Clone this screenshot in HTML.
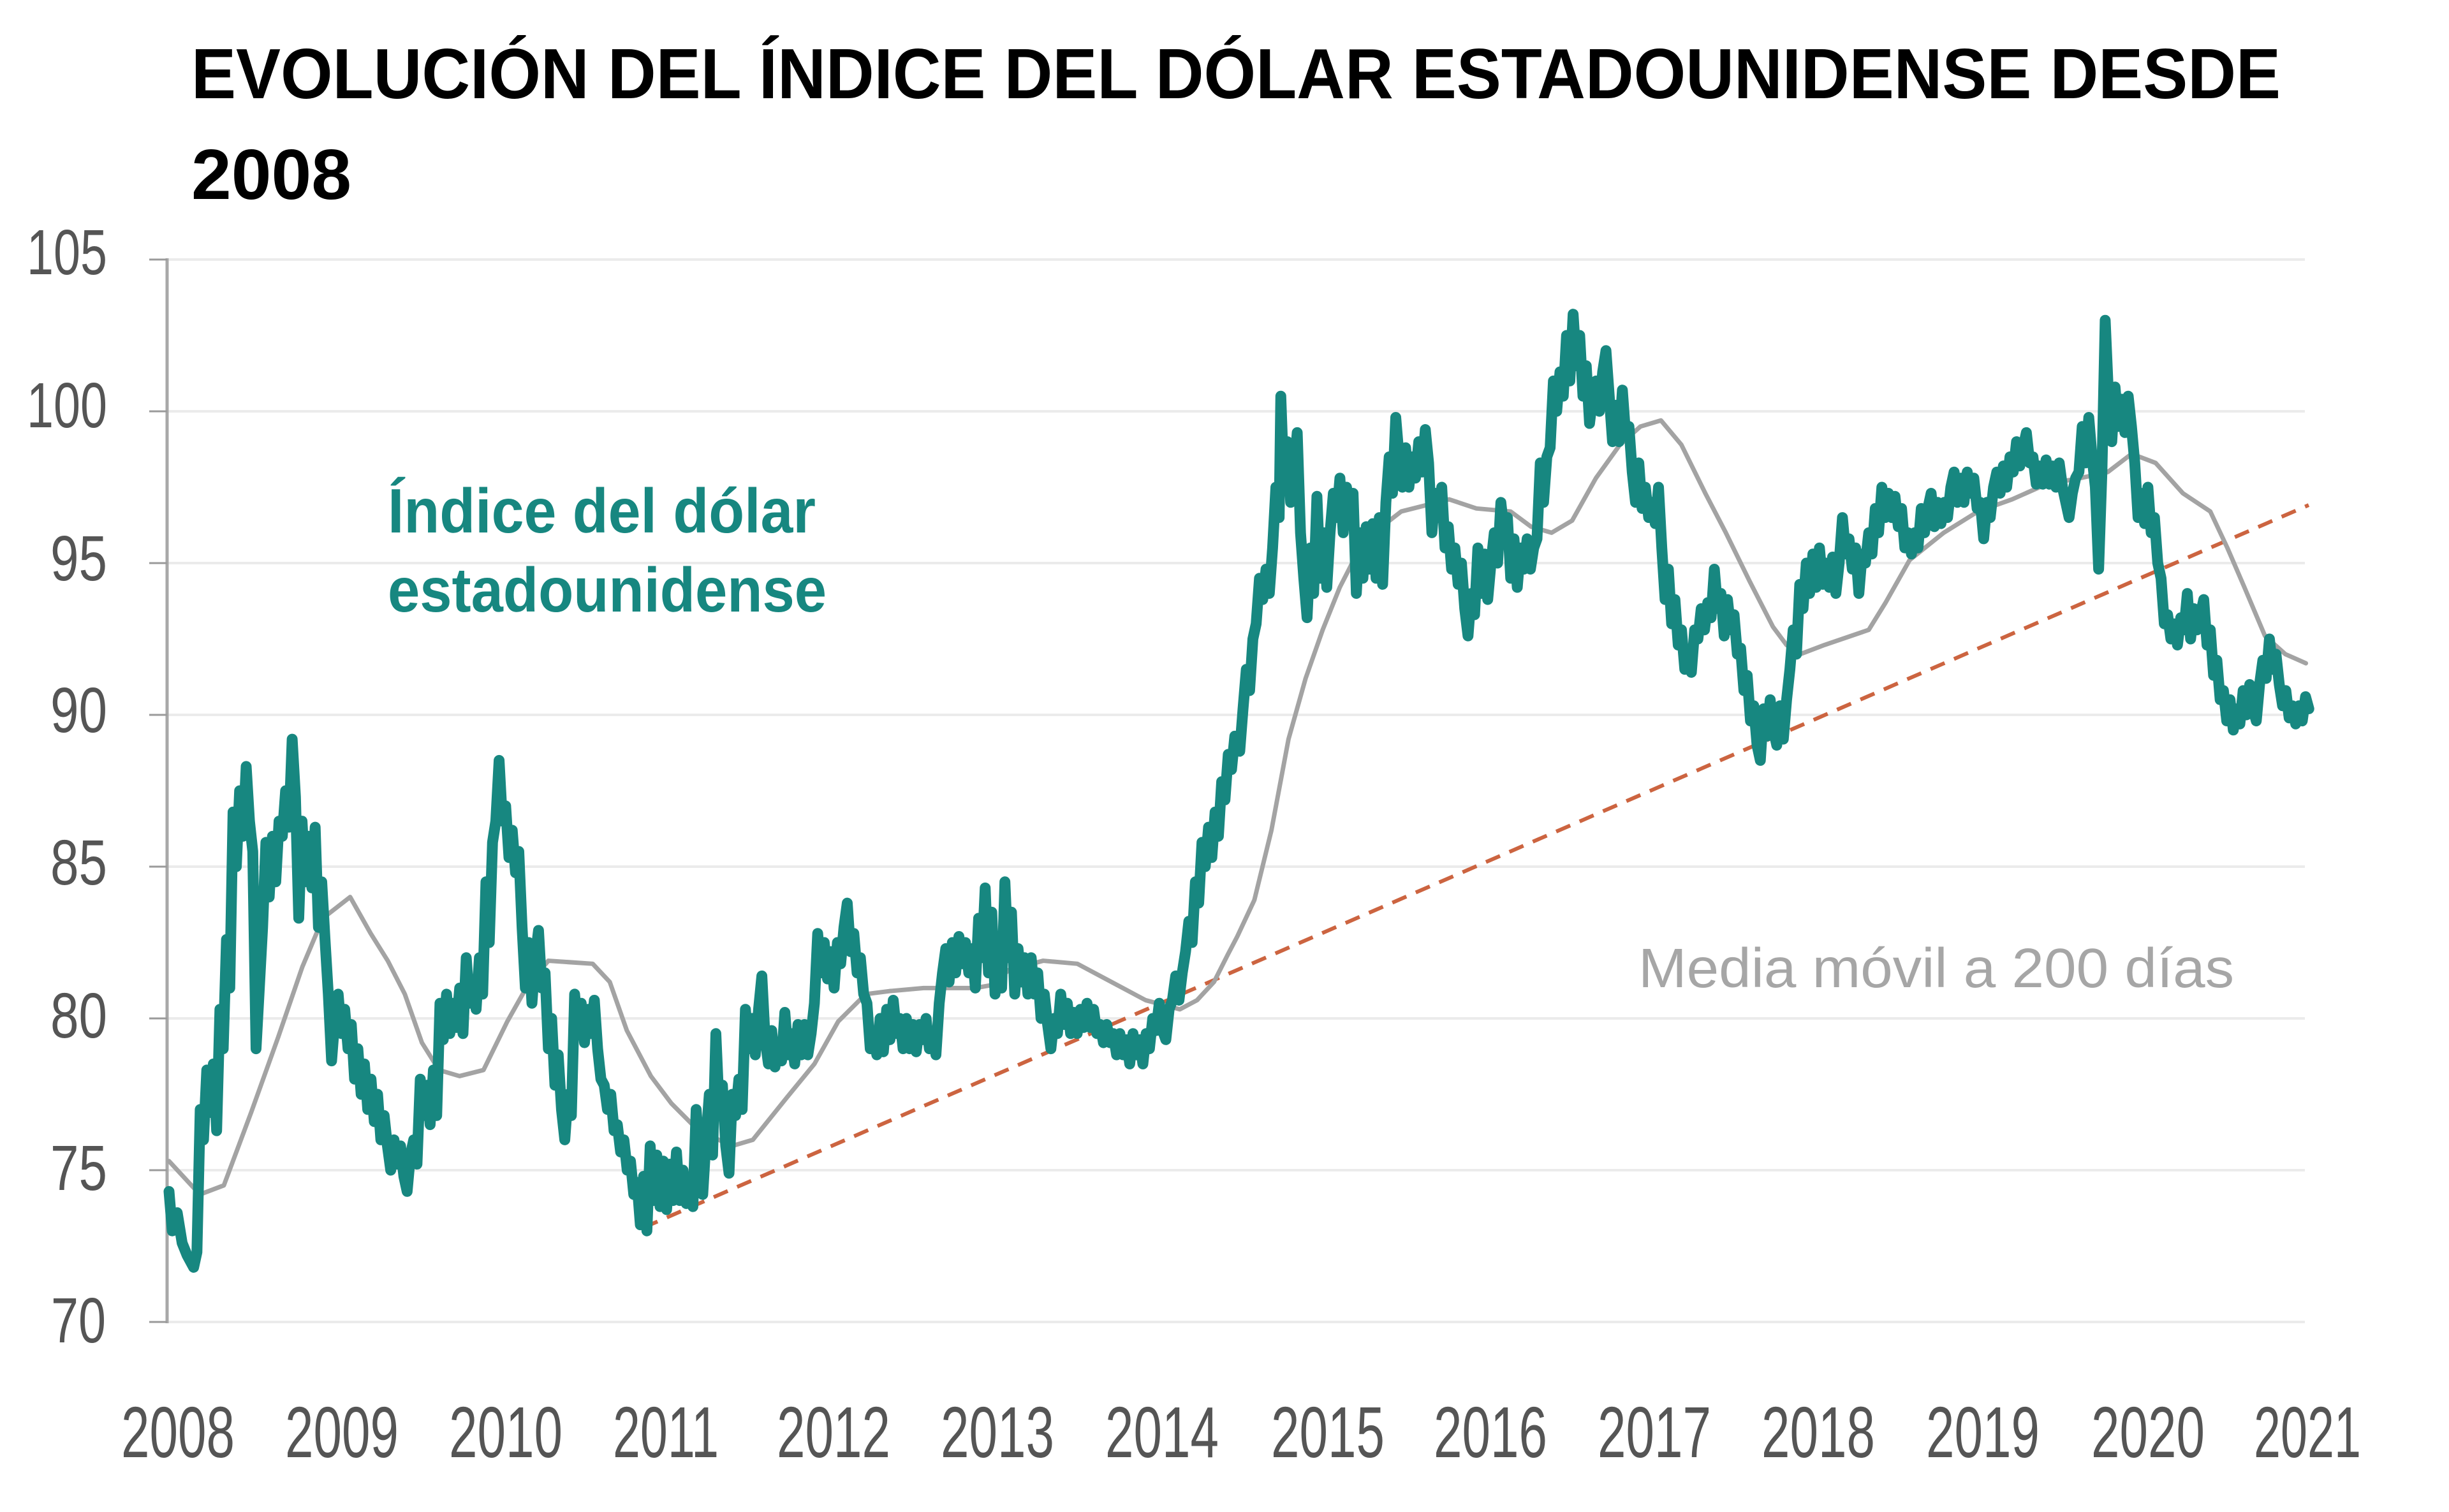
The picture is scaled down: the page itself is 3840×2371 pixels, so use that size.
<!DOCTYPE html>
<html>
<head>
<meta charset="utf-8">
<style>
  html,body{margin:0;padding:0;background:#ffffff;}
  svg{display:block;}
  text{font-family:"Liberation Sans", sans-serif;}
</style>
</head>
<body>
<svg width="3840" height="2371" viewBox="0 0 3840 2371" xmlns="http://www.w3.org/2000/svg">
  <rect x="0" y="0" width="3840" height="2371" fill="#ffffff"/>

  <!-- Title -->
  <text x="300" y="154" font-size="111" font-weight="bold" fill="#000" textLength="3276" lengthAdjust="spacingAndGlyphs">EVOLUCIÓN DEL ÍNDICE DEL DÓLAR ESTADOUNIDENSE DESDE</text>
  <text x="300" y="312" font-size="111" font-weight="bold" fill="#000" textLength="251" lengthAdjust="spacingAndGlyphs">2008</text>

  <!-- Gridlines -->
  <g stroke="#ebebeb" stroke-width="4">
    <line x1="263" y1="407" x2="3614" y2="407"/>
    <line x1="263" y1="645" x2="3614" y2="645"/>
    <line x1="263" y1="883" x2="3614" y2="883"/>
    <line x1="263" y1="1121" x2="3614" y2="1121"/>
    <line x1="263" y1="1359" x2="3614" y2="1359"/>
    <line x1="263" y1="1597" x2="3614" y2="1597"/>
    <line x1="263" y1="1835" x2="3614" y2="1835"/>
    <line x1="263" y1="2073" x2="3614" y2="2073"/>
  </g>

  <!-- Y axis & ticks -->
  <line x1="262" y1="405" x2="262" y2="2075" stroke="#a8a8a8" stroke-width="5"/>
  <g stroke="#9a9a9a" stroke-width="3">
    <line x1="234" y1="407" x2="262" y2="407"/>
    <line x1="234" y1="645" x2="262" y2="645"/>
    <line x1="234" y1="883" x2="262" y2="883"/>
    <line x1="234" y1="1121" x2="262" y2="1121"/>
    <line x1="234" y1="1359" x2="262" y2="1359"/>
    <line x1="234" y1="1597" x2="262" y2="1597"/>
    <line x1="234" y1="1835" x2="262" y2="1835"/>
    <line x1="234" y1="2073" x2="262" y2="2073"/>
  </g>

  <!-- Y labels -->
  <g font-size="100" fill="#555555">
    <text x="42" y="430" textLength="126" lengthAdjust="spacingAndGlyphs">105</text>
    <text x="42" y="670" textLength="126" lengthAdjust="spacingAndGlyphs">100</text>
    <text x="79" y="910" textLength="89" lengthAdjust="spacingAndGlyphs">95</text>
    <text x="79" y="1148" textLength="89" lengthAdjust="spacingAndGlyphs">90</text>
    <text x="79" y="1387" textLength="89" lengthAdjust="spacingAndGlyphs">85</text>
    <text x="79" y="1627" textLength="89" lengthAdjust="spacingAndGlyphs">80</text>
    <text x="79" y="1866" textLength="89" lengthAdjust="spacingAndGlyphs">75</text>
    <text x="80" y="2105" textLength="86" lengthAdjust="spacingAndGlyphs">70</text>
  </g>

  <!-- X labels -->
  <g font-size="113" fill="#555555">
    <text x="190" y="2285" textLength="178" lengthAdjust="spacingAndGlyphs">2008</text>
    <text x="447" y="2285" textLength="178" lengthAdjust="spacingAndGlyphs">2009</text>
    <text x="704" y="2285" textLength="178" lengthAdjust="spacingAndGlyphs">2010</text>
    <text x="961" y="2285" textLength="166" lengthAdjust="spacingAndGlyphs">2011</text>
    <text x="1218" y="2285" textLength="178" lengthAdjust="spacingAndGlyphs">2012</text>
    <text x="1475" y="2285" textLength="178" lengthAdjust="spacingAndGlyphs">2013</text>
    <text x="1733" y="2285" textLength="178" lengthAdjust="spacingAndGlyphs">2014</text>
    <text x="1993" y="2285" textLength="178" lengthAdjust="spacingAndGlyphs">2015</text>
    <text x="2248" y="2285" textLength="178" lengthAdjust="spacingAndGlyphs">2016</text>
    <text x="2505" y="2285" textLength="178" lengthAdjust="spacingAndGlyphs">2017</text>
    <text x="2762" y="2285" textLength="178" lengthAdjust="spacingAndGlyphs">2018</text>
    <text x="3020" y="2285" textLength="178" lengthAdjust="spacingAndGlyphs">2019</text>
    <text x="3279" y="2285" textLength="178" lengthAdjust="spacingAndGlyphs">2020</text>
    <text x="3534" y="2285" textLength="168" lengthAdjust="spacingAndGlyphs">2021</text>
  </g>

  <!-- Trend line (dashed) -->
  <line x1="1009" y1="1925" x2="3620" y2="792" stroke="#cc6440" stroke-width="6" stroke-dasharray="24 16"/>

  <!-- Data series: coordinates are (years since 2008, index value) -->
  <g transform="matrix(257.5 0 0 -47.6 265 5405)">
    <polyline fill="none" stroke="#a3a3a3" stroke-width="7" stroke-linejoin="round" stroke-linecap="round" vector-effect="non-scaling-stroke"
      points="0,75.3 0.188,74.2 0.334,74.5 0.50,76.9 0.666,79.4 0.812,81.7 0.937,83.3 1.103,84.0 1.228,82.8 1.332,81.9 1.436,80.8 1.54,79.2 1.644,78.3 1.769,78.1 1.915,78.3 2.06,79.9 2.185,81.1 2.31,81.9 2.58,81.8 2.684,81.2 2.788,79.6 2.934,78.1 3.059,77.2 3.225,76.3 3.43,75.8 3.555,76.0 3.763,77.4 3.93,78.5 4.075,79.9 4.242,80.8 4.387,80.9 4.595,81.0 4.907,81.0 5.011,81.1 5.115,81.6 5.323,81.9 5.531,81.8 5.739,81.2 5.947,80.6 6.155,80.3 6.26,80.6 6.363,81.2 6.447,82.1 6.505,82.7 6.609,83.9 6.713,86.2 6.817,89.2 6.921,91.2 7.025,92.8 7.129,94.2 7.233,95.3 7.337,96.0 7.503,96.7 7.649,96.9 7.795,97.1 7.961,96.8 8.169,96.7 8.294,96.2 8.419,96.0 8.544,96.4 8.689,97.8 8.835,98.9 8.96,99.5 9.085,99.7 9.209,98.9 9.355,97.3 9.48,96.0 9.625,94.4 9.767,92.9 9.85,92.3 9.933,92.0 10.079,92.3 10.35,92.8 10.453,93.7 10.599,95.1 10.807,96.0 11.015,96.7 11.223,97.1 11.431,97.6 11.639,97.8 11.806,98.0 11.951,98.6 12.097,98.3 12.263,97.3 12.43,96.7 12.534,95.5 12.638,94.2 12.763,92.6 12.887,92.0 13.012,91.7"/>
    <polyline fill="none" stroke="#178780" stroke-width="17" stroke-linejoin="round" stroke-linecap="round" vector-effect="non-scaling-stroke"
      points="0,74.3 0.02,73.0 0.05,73.6 0.08,72.6 0.11,72.2 0.15,71.8 0.17,72.3 0.19,77.0 0.21,76.0 0.23,78.3 0.25,76.9 0.27,78.5 0.29,76.3 0.31,80.3 0.33,79.0 0.35,82.6 0.37,81.0 0.39,86.8 0.41,85.0 0.43,87.5 0.45,86.0 0.47,88.3 0.49,86.5 0.51,85.5 0.53,79.0 0.55,81.0 0.57,83.0 0.59,85.8 0.61,84.0 0.63,86.0 0.65,84.5 0.67,86.5 0.69,86.0 0.71,87.5 0.73,86.3 0.75,89.2 0.77,87.3 0.79,83.3 0.81,86.5 0.83,84.5 0.85,86.0 0.87,84.3 0.89,86.3 0.91,83.0 0.93,84.5 0.95,82.6 0.97,80.8 0.99,78.6 1.01,80.0 1.03,80.8 1.05,79.5 1.07,80.3 1.09,79.0 1.11,79.8 1.13,78.0 1.15,79.0 1.17,77.5 1.19,78.5 1.21,77.0 1.23,78.0 1.25,76.6 1.27,77.5 1.29,76.0 1.31,76.8 1.33,75.8 1.35,75.0 1.37,76.0 1.39,75.2 1.41,75.8 1.43,74.8 1.45,74.3 1.47,75.5 1.49,76.0 1.51,75.2 1.53,78.0 1.55,76.8 1.57,77.8 1.59,76.5 1.61,78.3 1.63,76.8 1.65,80.5 1.67,79.3 1.69,80.8 1.71,79.5 1.73,80.5 1.75,79.7 1.77,81.0 1.79,79.5 1.81,82.0 1.83,80.5 1.85,81.2 1.87,80.3 1.89,82.0 1.91,80.8 1.93,84.5 1.95,82.5 1.97,85.8 1.99,86.5 2.01,88.5 2.03,86.5 2.05,87.0 2.07,85.3 2.09,86.2 2.11,84.8 2.13,85.5 2.15,83.0 2.17,81.0 2.19,82.5 2.21,80.5 2.23,82.0 2.25,82.9 2.27,81.0 2.29,81.5 2.31,79.0 2.33,80.0 2.35,77.8 2.37,78.8 2.39,77.0 2.41,76.0 2.43,77.5 2.45,76.8 2.47,80.8 2.49,79.5 2.51,80.5 2.53,79.2 2.55,80.3 2.57,79.5 2.59,80.6 2.61,79.0 2.63,78.0 2.65,77.8 2.67,77.0 2.69,77.5 2.71,76.3 2.73,76.5 2.75,75.6 2.77,76.0 2.79,75.0 2.81,75.3 2.83,74.2 2.85,74.6 2.87,73.2 2.89,74.8 2.91,73.0 2.93,75.8 2.95,74.0 2.97,75.5 2.99,73.8 3.01,75.3 3.03,73.7 3.05,75.2 3.07,74.0 3.09,75.6 3.11,74.0 3.13,75.0 3.15,73.9 3.17,74.6 3.19,73.8 3.21,77.0 3.23,75.5 3.25,74.2 3.27,76.0 3.29,77.5 3.31,75.5 3.33,79.5 3.35,77.0 3.37,77.8 3.39,75.8 3.41,74.9 3.43,77.5 3.45,76.8 3.47,78.0 3.49,77.0 3.51,80.3 3.53,79.0 3.55,80.0 3.57,78.8 3.59,80.3 3.61,81.4 3.63,79.3 3.65,78.5 3.67,79.6 3.69,78.4 3.71,79.2 3.73,78.6 3.75,80.2 3.77,78.8 3.79,79.5 3.81,78.5 3.83,79.8 3.85,78.8 3.87,79.8 3.89,78.8 3.91,79.5 3.93,80.5 3.95,82.8 3.97,81.5 3.99,82.5 4.01,81.3 4.03,82.2 4.05,81.0 4.07,82.5 4.09,81.8 4.11,83.0 4.13,83.8 4.15,82.2 4.17,82.8 4.19,81.5 4.21,82.0 4.23,80.8 4.25,80.5 4.27,79.0 4.29,79.5 4.31,78.8 4.33,80.0 4.35,78.9 4.37,80.3 4.39,79.3 4.41,80.6 4.43,79.5 4.45,80.0 4.47,79.0 4.49,80.0 4.51,79.0 4.53,79.8 4.55,78.9 4.57,79.8 4.59,79.3 4.61,80.0 4.63,79.0 4.65,79.5 4.67,78.8 4.69,80.5 4.71,81.5 4.73,82.3 4.75,81.2 4.77,82.5 4.79,81.5 4.81,82.7 4.83,81.8 4.85,82.5 4.87,81.5 4.89,82.3 4.91,81.0 4.93,83.3 4.95,82.0 4.97,84.3 4.99,81.5 5.01,83.5 5.03,80.8 5.05,82.5 5.07,81.0 5.09,84.5 5.11,82.0 5.13,83.5 5.15,80.8 5.17,82.3 5.19,81.2 5.21,82.0 5.23,80.8 5.25,82.0 5.27,80.8 5.29,81.5 5.31,80.0 5.33,80.8 5.35,79.8 5.37,79.0 5.39,80.0 5.41,79.5 5.43,80.8 5.45,79.8 5.47,80.5 5.49,79.5 5.51,80.2 5.53,79.5 5.55,80.3 5.57,79.7 5.59,80.5 5.61,79.7 5.63,80.3 5.65,79.5 5.67,79.8 5.69,79.2 5.71,79.8 5.73,79.2 5.75,79.5 5.77,78.8 5.79,79.5 5.81,78.8 5.83,79.3 5.85,78.5 5.87,79.5 5.89,78.8 5.91,79.3 5.93,78.5 5.95,79.5 5.97,79.0 5.99,80.0 6.01,79.6 6.03,80.5 6.05,79.6 6.07,79.3 6.09,80.3 6.11,80.6 6.13,81.4 6.15,80.6 6.17,81.5 6.19,82.2 6.21,83.2 6.23,82.5 6.25,84.5 6.27,83.8 6.29,85.8 6.31,85.0 6.33,86.3 6.35,85.3 6.37,86.8 6.39,86.0 6.41,87.8 6.43,87.2 6.45,88.7 6.47,88.2 6.49,89.3 6.51,89.0 6.52,88.8 6.54,90.2 6.56,91.5 6.58,90.8 6.60,92.5 6.62,93.0 6.64,94.5 6.66,93.8 6.68,94.8 6.70,94.0 6.72,95.5 6.74,97.5 6.76,96.5 6.77,100.5 6.79,97.5 6.81,99.0 6.83,97.0 6.85,98.0 6.87,99.3 6.89,96.0 6.91,94.5 6.93,93.2 6.95,95.5 6.97,94.0 6.99,97.2 7.01,94.5 7.03,96.0 7.05,94.2 7.07,96.0 7.09,97.3 7.11,96.5 7.13,97.8 7.15,96.0 7.17,97.5 7.19,96.8 7.21,97.3 7.23,94.0 7.25,96.0 7.27,94.5 7.29,96.2 7.31,94.8 7.33,96.3 7.35,94.5 7.37,96.5 7.39,94.3 7.41,97.0 7.43,98.5 7.45,97.3 7.47,99.8 7.49,98.5 7.51,97.5 7.53,98.8 7.55,97.5 7.57,98.5 7.59,97.8 7.61,99.0 7.63,98.0 7.65,99.4 7.67,98.3 7.69,96.0 7.71,97.3 7.73,96.5 7.75,97.5 7.77,95.5 7.79,96.2 7.81,94.8 7.83,95.5 7.85,94.3 7.87,95.0 7.89,93.5 7.91,92.6 7.93,94.0 7.95,93.3 7.97,95.5 7.99,94.0 8.01,95.3 8.03,93.8 8.05,95.0 8.07,96.0 8.09,95.0 8.11,97.0 8.13,96.0 8.15,96.5 8.17,94.5 8.19,95.8 8.21,94.2 8.23,95.5 8.25,94.8 8.27,95.8 8.29,94.8 8.31,95.5 8.33,95.8 8.35,98.3 8.37,97.0 8.39,98.5 8.41,98.8 8.43,101.0 8.45,100.0 8.47,101.3 8.49,100.5 8.51,102.5 8.53,101.0 8.55,103.2 8.57,101.5 8.59,102.5 8.61,100.5 8.63,101.5 8.65,99.6 8.67,100.5 8.69,101.0 8.71,100.0 8.73,101.3 8.75,102.0 8.77,100.5 8.79,99.0 8.81,100.2 8.83,99.0 8.85,100.7 8.87,99.2 8.89,99.5 8.91,98.0 8.93,97.0 8.95,98.3 8.97,96.8 8.99,97.5 9.01,96.5 9.03,97.0 9.05,96.3 9.07,97.5 9.09,95.5 9.11,93.8 9.13,94.8 9.15,93.0 9.17,93.8 9.19,92.3 9.21,92.8 9.23,91.5 9.25,92.0 9.27,91.4 9.29,92.8 9.31,92.5 9.33,93.5 9.35,92.8 9.37,93.7 9.39,93.2 9.41,94.8 9.43,93.5 9.45,94.0 9.47,92.6 9.49,93.8 9.51,92.8 9.53,93.3 9.55,92.0 9.57,92.2 9.59,90.8 9.61,91.3 9.63,89.8 9.65,90.3 9.67,89.0 9.69,88.5 9.71,90.2 9.73,89.3 9.75,90.5 9.77,89.5 9.79,89.0 9.81,90.3 9.83,89.2 9.85,90.5 9.87,91.5 9.89,92.8 9.91,92.0 9.93,94.3 9.95,93.5 9.97,95.0 9.99,94.0 10.01,95.3 10.03,94.2 10.05,95.5 10.07,94.3 10.09,95.0 10.11,94.2 10.13,95.2 10.15,94.0 10.17,95.0 10.19,96.5 10.21,95.3 10.23,95.8 10.25,94.8 10.27,95.5 10.29,94.0 10.31,95.3 10.33,95.0 10.35,96.0 10.37,95.3 10.39,96.8 10.41,96.0 10.43,97.5 10.45,96.5 10.47,97.3 10.49,96.5 10.51,97.2 10.53,96.2 10.55,96.8 10.57,95.5 10.59,96.0 10.61,95.3 10.63,96.0 10.65,95.5 10.67,96.8 10.69,96.0 10.71,96.8 10.73,97.3 10.75,96.2 10.77,97.0 10.79,96.3 10.81,97.0 10.83,96.5 10.85,97.5 10.87,98.0 10.89,97.0 10.91,97.8 10.93,97.0 10.95,98.0 10.97,97.3 10.99,97.8 11.01,96.8 11.03,97.0 11.05,95.8 11.07,97.0 11.09,96.5 11.11,97.5 11.13,98.0 11.15,97.3 11.17,98.2 11.19,97.5 11.21,98.5 11.23,98.0 11.25,99.0 11.27,98.2 11.29,98.8 11.31,99.3 11.33,98.3 11.35,98.5 11.37,97.6 11.39,98.2 11.41,97.6 11.43,98.4 11.45,97.6 11.47,98.2 11.49,97.5 11.51,98.3 11.53,97.5 11.55,97.0 11.57,96.5 11.59,97.3 11.61,97.8 11.63,98.0 11.65,99.5 11.67,98.3 11.69,99.8 11.71,98.5 11.73,97.5 11.75,94.8 11.77,98.0 11.79,103.0 11.81,100.5 11.83,99.0 11.85,100.8 11.87,99.5 11.89,100.4 11.91,99.3 11.93,100.5 11.95,99.5 11.97,98.3 11.99,96.5 12.01,97.3 12.03,96.3 12.05,97.5 12.07,96.0 12.09,96.5 12.11,95.0 12.13,94.5 12.15,93.0 12.17,93.3 12.19,92.5 12.21,93.0 12.23,92.3 12.25,93.2 12.27,92.8 12.29,94.0 12.31,92.5 12.33,93.5 12.35,92.8 12.37,93.3 12.39,93.8 12.41,92.3 12.43,92.8 12.45,91.3 12.47,91.8 12.49,90.5 12.51,90.8 12.53,89.8 12.55,90.5 12.57,89.5 12.59,90.2 12.61,89.7 12.63,90.8 12.65,90.0 12.67,91.0 12.69,90.2 12.71,89.8 12.73,91.0 12.75,91.8 12.77,91.2 12.79,92.5 12.81,91.5 12.83,92.0 12.85,91.0 12.87,90.3 12.89,90.8 12.91,89.9 12.93,90.3 12.95,89.7 12.97,90.3 12.99,89.8 13.01,90.6 13.03,90.2"/>
  </g>

  <!-- Series labels -->
  <text x="608" y="835" font-size="98" font-weight="bold" fill="#178780" textLength="671" lengthAdjust="spacingAndGlyphs">Índice del dólar</text>
  <text x="608" y="959" font-size="98" font-weight="bold" fill="#178780" textLength="688" lengthAdjust="spacingAndGlyphs">estadounidense</text>
  <text x="2569" y="1548" font-size="87" fill="#a6a6a6" textLength="934" lengthAdjust="spacingAndGlyphs">Media móvil a 200 días</text>
</svg>
</body>
</html>
